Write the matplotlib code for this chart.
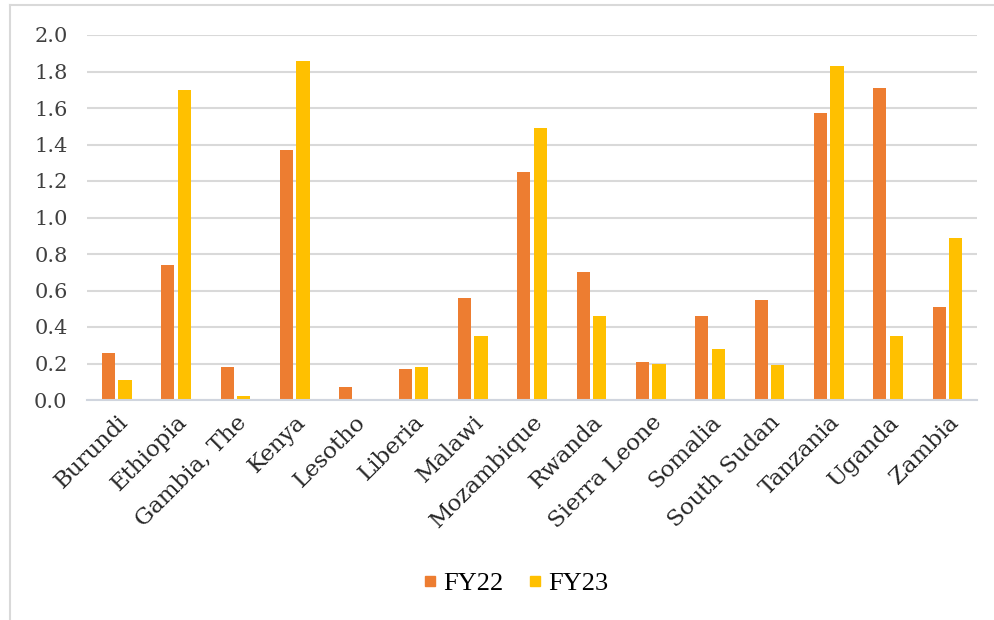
import matplotlib
matplotlib.use("Agg")
import matplotlib.pyplot as plt
from matplotlib.lines import Line2D
import numpy as np

countries = ["Burundi", "Ethiopia", "Gambia, The", "Kenya", "Lesotho", "Liberia",
             "Malawi", "Mozambique", "Rwanda", "Sierra Leone", "Somalia",
             "South Sudan", "Tanzania", "Uganda", "Zambia"]
fy22 = [0.26, 0.74, 0.18, 1.37, 0.07, 0.17, 0.56, 1.25, 0.70, 0.21, 0.46, 0.55, 1.57, 1.71, 0.51]
fy23 = [0.11, 1.70, 0.02, 1.86, 0.00, 0.18, 0.35, 1.49, 0.46, 0.20, 0.28, 0.19, 1.83, 0.35, 0.89]
series_names = ["FY22", "FY23"]
y_ticks = [0.0, 0.2, 0.4, 0.6, 0.8, 1.0, 1.2, 1.4, 1.6, 1.8, 2.0]

c22 = "#ED7D31"
c23 = "#FFC000"
grid_c = "#D9D9D9"

fig = plt.figure(figsize=(9.94, 6.2), dpi=100)
ax = fig.add_axes([87 / 994, 1 - 400 / 620, (977 - 87) / 994, (400 - 35) / 620])

x = np.arange(len(countries))
w = 0.22
ax.bar(x - 0.14, fy22, width=w, color=c22, label=series_names[0], zorder=3)
ax.bar(x + 0.14, fy23, width=w, color=c23, label=series_names[1], zorder=3)

ax.set_xlim(-0.5, len(countries) - 0.5)
ax.set_ylim(0, 2.0)
ax.set_yticks(y_ticks)
ax.set_yticklabels([f"{v:.1f}" for v in y_ticks], family="DejaVu Serif",
                   fontsize=15, color="#404040")
ax.tick_params(axis="y", length=0, pad=14)
ax.tick_params(axis="x", length=0, pad=8)
ax.set_xticks(x)
ax.set_xticklabels(countries, rotation=45, ha="right", rotation_mode="anchor",
                   family="DejaVu Serif", fontsize=16.5, color="#262626")

ax.yaxis.grid(True, color=grid_c, linewidth=1.5, zorder=0)
for s in ["top", "right", "left"]:
    ax.spines[s].set_visible(False)
ax.spines["bottom"].set_color("#D0D5DE")
ax.spines["bottom"].set_linewidth(1.5)
ax.spines["bottom"].set_zorder(4)

handles = [Line2D([], [], marker="s", linestyle="none", markersize=7,
                  markerfacecolor=c, markeredgecolor=c) for c in (c22, c23)]
fig.legend(handles, series_names, loc="center", bbox_to_anchor=(515 / 994, 1 - 583 / 620),
           ncol=2, frameon=False, handlelength=0.6, handletextpad=0.2, columnspacing=0.9,
           prop={"family": "Liberation Serif", "size": 19})

# frame around the chart area
fig.add_artist(Line2D([10 / 994, 10 / 994], [0, 1 - 5 / 620], transform=fig.transFigure,
                      color="#D9D9D9", linewidth=1.5))
fig.add_artist(Line2D([10 / 994, 1], [1 - 5 / 620, 1 - 5 / 620], transform=fig.transFigure,
                      color="#D9D9D9", linewidth=1.5))

fig.savefig("out.png", dpi=100, facecolor="white")
